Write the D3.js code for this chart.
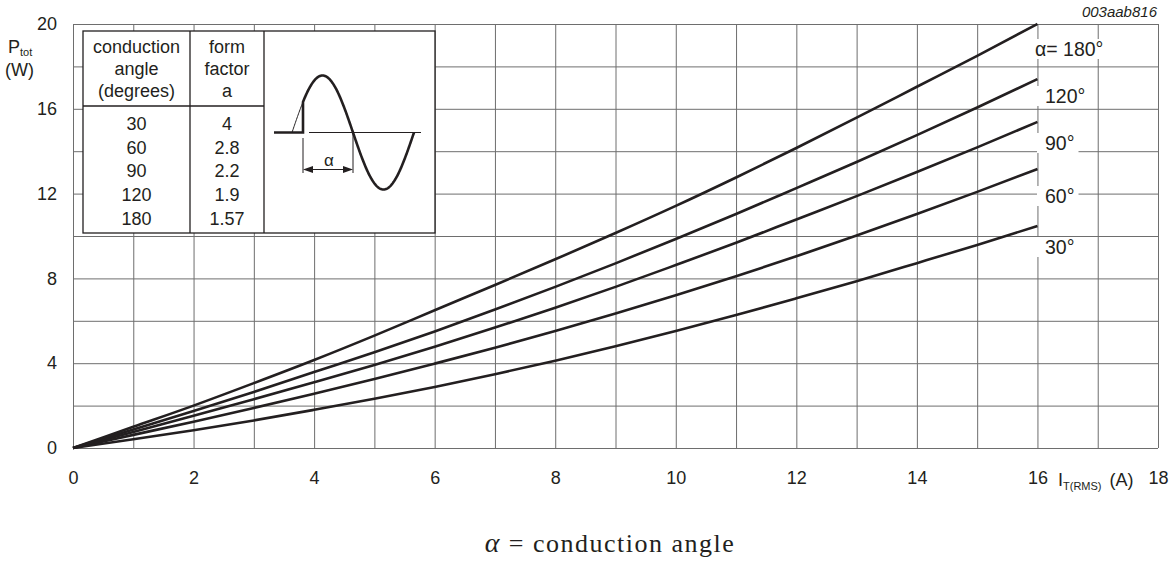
<!DOCTYPE html>
<html>
<head>
<meta charset="utf-8">
<script src="https://cdn.jsdelivr.net/npm/d3@7"></script>
<style>
	body { margin: 0; background: #fff; }
	svg { display: block; font-family: "Liberation Sans", Arial, sans-serif; }
	.grid line { stroke: #6e6e6e; stroke-width: 1; }
	.grid path { display: none; }
	.axis path { display: none; }
	.axis text { font-size: 18px; fill: #231f20; }
</style>
</head>
<body>
<script>
// current values (A) where the curves were read
var current = [0, 1, 2, 3, 4, 5, 6, 7, 8, 9, 10, 11, 12, 13, 14, 15, 16];

// power dissipation (W) per conduction angle
var p180 = [0, 1.0, 2.0, 3.06, 4.15, 5.3, 6.5, 7.69, 8.9, 10.14, 11.42, 12.76, 14.15, 15.58, 17.04, 18.5, 20.0];
var p120 = [0, 0.87, 1.74, 2.64, 3.58, 4.52, 5.5, 6.53, 7.6, 8.71, 9.86, 11.04, 12.26, 13.49, 14.76, 16.06, 17.4];
var p90 = [0, 0.76, 1.52, 2.3, 3.1, 3.92, 4.78, 5.68, 6.62, 7.6, 8.63, 9.68, 10.78, 11.88, 13.02, 14.18, 15.38];
var p60 = [0, 0.62, 1.24, 1.89, 2.56, 3.25, 3.98, 4.73, 5.52, 6.34, 7.2, 8.1, 9.04, 10.02, 11.04, 12.08, 13.16];
var p30 = [0, 0.41, 0.84, 1.3, 1.8, 2.32, 2.88, 3.48, 4.12, 4.8, 5.52, 6.27, 7.06, 7.87, 8.72, 9.58, 10.47];

var curveLabels = ["\u03b1= 180\u00b0", "120\u00b0", "90\u00b0", "60\u00b0", "30\u00b0"];

// inset table
var tableAngles = ["30", "60", "90", "120", "180"];
var tableFactors = ["4", "2.8", "2.2", "1.9", "1.57"];

var xTicks = [0, 2, 4, 6, 8, 10, 12, 14, 16, 18];
var yTicks = [0, 4, 8, 12, 16, 20];

var width = 1176, height = 563;
var plotLeft = 73, plotRight = 1158, plotTop = 24, plotBottom = 448;

var svg = d3.select("body").append("svg")
	.attr("width", width)
	.attr("height", height);

var x = d3.scaleLinear().domain([0, 18]).range([plotLeft, plotRight]);
var y = d3.scaleLinear().domain([0, 20]).range([plotBottom, plotTop]);

// grid lines
svg.append("g")
	.attr("class", "grid")
	.attr("transform", "translate(0," + plotBottom + ")")
	.call(d3.axisBottom(x).tickValues(d3.range(0, 19)).tickSize(-(plotBottom - plotTop)).tickFormat(""));
svg.append("g")
	.attr("class", "grid")
	.attr("transform", "translate(" + plotLeft + ",0)")
	.call(d3.axisLeft(y).tickValues(d3.range(0, 21, 2)).tickSize(-(plotRight - plotLeft)).tickFormat(""));

// tick labels
svg.append("g")
	.attr("class", "axis")
	.attr("transform", "translate(0," + plotBottom + ")")
	.call(d3.axisBottom(x).tickValues(xTicks).tickSize(0).tickPadding(23));
svg.append("g")
	.attr("class", "axis")
	.attr("transform", "translate(" + plotLeft + ",0)")
	.call(d3.axisLeft(y).tickValues(yTicks).tickSize(0).tickPadding(16));

// axis titles
var yt = svg.append("text").attr("x", 8).attr("y", 53).attr("font-size", 18).attr("fill", "#231f20");
yt.append("tspan").text("P");
yt.append("tspan").attr("font-size", 11).attr("dy", 3).text("tot");
svg.append("text").attr("x", 5).attr("y", 76).attr("font-size", 18).attr("fill", "#231f20").text("(W)");

var xt = svg.append("text").attr("x", 1058).attr("y", 486).attr("font-size", 18).attr("fill", "#231f20");
xt.append("tspan").text("I");
xt.append("tspan").attr("font-size", 11).attr("dy", 4).text("T(RMS)");
xt.append("tspan").attr("dy", -4).attr("dx", 8).text("(A)");

svg.append("text")
	.attr("x", 1157).attr("y", 17)
	.attr("text-anchor", "end")
	.attr("font-size", 15)
	.attr("font-style", "italic")
	.attr("fill", "#231f20")
	.text("003aab816");

// curves
var series = [p180, p120, p90, p60, p30];
var line = d3.line()
	.x(function(d, i) { return x(current[i]); })
	.y(function(d) { return y(d); })
	.curve(d3.curveMonotoneX);

svg.append("g").selectAll("path")
	.data(series)
	.enter().append("path")
	.attr("d", line)
	.attr("fill", "none")
	.attr("stroke", "#231f20")
	.attr("stroke-width", 2.6)
	.attr("stroke-linejoin", "round");

// curve labels with white backing
var labelY = [56, 103, 150, 203, 254];
var labelX = [1035, 1045, 1045, 1045, 1045];
var lab = svg.append("g").selectAll("g")
	.data(curveLabels)
	.enter().append("g");
lab.append("text")
	.attr("x", function(d, i) { return labelX[i]; })
	.attr("y", function(d, i) { return labelY[i]; })
	.attr("font-size", 19.5)
	.attr("fill", "#231f20")
	.text(function(d) { return d; });
lab.each(function(d, i) {
	var t = d3.select(this).select("text");
	var b = t.node().getBBox();
	var padL = i === 0 ? 1 : 8;
	d3.select(this).insert("rect", "text")
		.attr("x", b.x - padL).attr("y", b.y + 1)
		.attr("width", b.width + padL + 4).attr("height", b.height - 2)
		.attr("fill", "#fff");
});

// inset table
var tb = svg.append("g");
tb.append("rect")
	.attr("x", 83).attr("y", 31).attr("width", 352).attr("height", 202)
	.attr("fill", "#fff").attr("stroke", "#231f20").attr("stroke-width", 1.3);
tb.append("line").attr("x1", 190).attr("x2", 190).attr("y1", 31).attr("y2", 233)
	.attr("stroke", "#231f20").attr("stroke-width", 1.3);
tb.append("line").attr("x1", 264).attr("x2", 264).attr("y1", 31).attr("y2", 233)
	.attr("stroke", "#231f20").attr("stroke-width", 1.3);
tb.append("line").attr("x1", 83).attr("x2", 264).attr("y1", 106).attr("y2", 106)
	.attr("stroke", "#231f20").attr("stroke-width", 1.3);

var head1 = ["conduction", "angle", "(degrees)"];
var head2 = ["form", "factor", "a"];
tb.selectAll(".h1").data(head1).enter().append("text")
	.attr("x", 136.5).attr("y", function(d, i) { return 53 + i * 22; })
	.attr("text-anchor", "middle").attr("font-size", 18).attr("fill", "#231f20")
	.text(function(d) { return d; });
tb.selectAll(".h2").data(head2).enter().append("text")
	.attr("x", 227).attr("y", function(d, i) { return 53 + i * 22; })
	.attr("text-anchor", "middle").attr("font-size", 18).attr("fill", "#231f20")
	.text(function(d) { return d; });
tb.selectAll(".c1").data(tableAngles).enter().append("text")
	.attr("x", 136.5).attr("y", function(d, i) { return 130 + i * 23.7; })
	.attr("text-anchor", "middle").attr("font-size", 18).attr("fill", "#231f20")
	.text(function(d) { return d; });
tb.selectAll(".c2").data(tableFactors).enter().append("text")
	.attr("x", 227).attr("y", function(d, i) { return 130 + i * 23.7; })
	.attr("text-anchor", "middle").attr("font-size", 18).attr("fill", "#231f20")
	.text(function(d) { return d; });

// waveform sketch
var base = 132.5, amp = 57, x0 = 292, half = 61, fire = 303;
function sineY(px) { return base - amp * Math.sin(Math.PI * (px - x0) / half); }
var thin = d3.range(x0, fire + 0.5, 0.5);
var thick = d3.range(fire, x0 + 2 * half + 0.5, 0.5);
var wl = d3.line().x(function(d) { return d; }).y(function(d) { return sineY(d); });
tb.append("path").attr("d", wl(thin)).attr("fill", "none").attr("stroke", "#231f20").attr("stroke-width", 1);
tb.append("line").attr("x1", 309).attr("x2", 421).attr("y1", base).attr("y2", base)
	.attr("stroke", "#231f20").attr("stroke-width", 1.2);
tb.append("path")
	.attr("d", "M274," + base + "H" + fire + "V" + sineY(fire) + wl(thick).replace("M", "L"))
	.attr("fill", "none").attr("stroke", "#231f20").attr("stroke-width", 2.6);

// alpha dimension
tb.append("line").attr("x1", fire).attr("x2", fire).attr("y1", 138).attr("y2", 173)
	.attr("stroke", "#231f20").attr("stroke-width", 1);
tb.append("line").attr("x1", x0 + half).attr("x2", x0 + half).attr("y1", 134).attr("y2", 173)
	.attr("stroke", "#231f20").attr("stroke-width", 1);
tb.append("line").attr("x1", fire + 8).attr("x2", x0 + half - 8).attr("y1", 169.5).attr("y2", 169.5)
	.attr("stroke", "#231f20").attr("stroke-width", 1.2);
tb.append("path")
	.attr("d", "M" + fire + ",169.5l10,-3.5v7z M" + (x0 + half) + ",169.5l-10,-3.5v7z")
	.attr("fill", "#231f20");
tb.append("text").attr("x", 329).attr("y", 166).attr("text-anchor", "middle")
	.attr("font-size", 17).attr("fill", "#231f20").text("\u03b1");

// caption
var cap = svg.append("text")
	.attr("x", 610).attr("y", 552)
	.attr("text-anchor", "middle")
	.attr("font-family", "'Liberation Serif', 'DejaVu Serif', serif")
	.attr("font-size", 26)
	.attr("letter-spacing", 1.5)
	.attr("fill", "#231f20");
cap.append("tspan").attr("font-style", "italic").attr("font-size", 28).text("\u03b1");
cap.append("tspan").text(" = conduction angle");
</script>
</body>
</html>
